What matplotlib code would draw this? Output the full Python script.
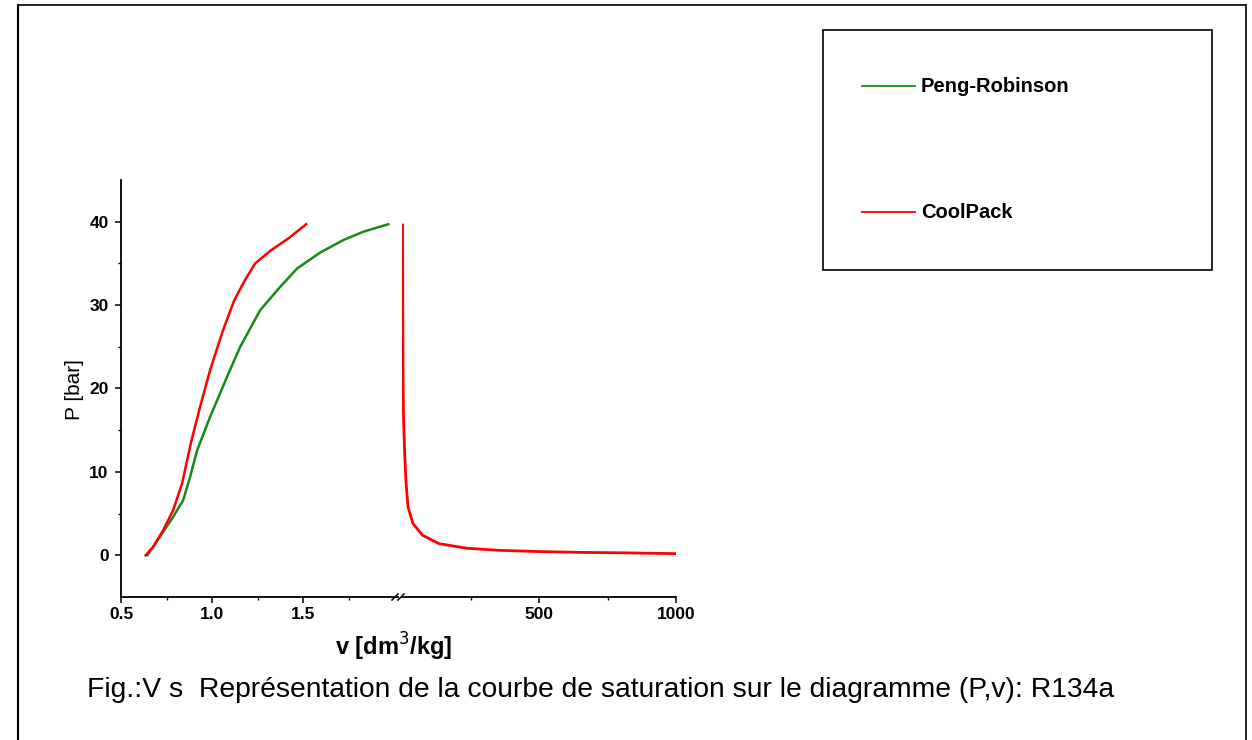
import matplotlib
matplotlib.use("Agg")
import matplotlib.pyplot as plt
from matplotlib.lines import Line2D
from matplotlib.patches import Rectangle

plt.rcParams['font.family'] = ['Liberation Sans', 'DejaVu Sans']

# ---- data ----
# Peng-Robinson, liquid branch
pr_v_liq = [0.645, 0.676, 0.731, 0.786, 0.841, 0.879, 0.918, 0.989, 1.082, 1.154,
            1.264, 1.374, 1.467, 1.593, 1.720, 1.830, 1.967]
pr_p_liq = [0.0, 1.0, 2.8, 4.6, 6.6, 9.4, 12.6, 16.6, 21.4, 25.0,
            29.4, 32.2, 34.4, 36.3, 37.8, 38.8, 39.7]
# CoolPack, liquid branch
cp_v_liq = [0.635, 0.676, 0.731, 0.786, 0.835, 0.885, 0.934, 0.989, 1.060, 1.120,
            1.175, 1.236, 1.319, 1.425, 1.516]
cp_p_liq = [0.0, 1.0, 3.0, 5.4, 8.6, 13.6, 17.8, 22.2, 27.0, 30.5,
            32.8, 35.0, 36.5, 38.1, 39.7]
# CoolPack, vapour branch
cp_v_vap = [2, 3, 4, 6, 10, 15, 22, 40, 75, 135, 235, 350, 500, 650, 800, 1000]
cp_p_vap = [39.6, 30, 20, 16, 12, 8.6, 5.8, 3.8, 2.4, 1.4, 0.85, 0.6, 0.45, 0.35, 0.3, 0.2]

left_ticks = [0.5, 1.0, 1.5]
left_minor = [0.75, 1.25, 1.75]
right_ticks = [500, 1000]
right_minor = [250, 750]
y_ticks = [0, 10, 20, 30, 40]
y_minor = [5, 15, 25, 35]

labels = ['Peng-Robinson', 'CoolPack']
colors = ['#168a16', '#ff0000']

W, H = 1252, 740
fig = plt.figure(figsize=(W / 100, H / 100), dpi=100)

def fx(px):
    return px / W

def fy(py):
    return 1 - py / H

ax1 = fig.add_axes([fx(121), fy(597), fx(398) - fx(121), fy(180) - fy(597)])
ax2 = fig.add_axes([fx(402), fy(597), fx(676) - fx(402), fy(180) - fy(597)])

l1, = ax1.plot(pr_v_liq, pr_p_liq, color=colors[0], lw=1.8)
l2, = ax1.plot(cp_v_liq, cp_p_liq, color=colors[1], lw=1.8)
ax2.plot(cp_v_vap, cp_p_vap, color=colors[1], lw=2.0)

ax1.set_xlim(0.5, 2.02)
ax2.set_xlim(0, 1000)
for ax in (ax1, ax2):
    ax.set_ylim(-5, 45)
    ax.spines['top'].set_visible(False)
    ax.spines['right'].set_visible(False)
    ax.set_facecolor('none')
    for s in ax.spines.values():
        s.set_linewidth(1.3)

ax2.spines['left'].set_visible(False)
ax2.tick_params(axis='y', left=False, labelleft=False)

ax1.set_xticks(left_ticks)
ax1.set_xticklabels(['%.1f' % t for t in left_ticks])
ax1.set_xticks(left_minor, minor=True)
ax2.set_xticks(right_ticks)
ax2.set_xticklabels([str(t) for t in right_ticks])
ax2.set_xticks(right_minor, minor=True)
ax1.set_yticks(y_ticks)
ax1.set_yticklabels([str(t) for t in y_ticks])
ax1.set_yticks(y_minor, minor=True)

for ax in (ax1, ax2):
    ax.tick_params(which='major', direction='out', length=4, width=1.1,
                   labelsize=12.5)
    ax.tick_params(which='minor', direction='out', length=2.5, width=1.0)
    ax.tick_params(axis='x', pad=3)
    ax.tick_params(axis='y', pad=5)
    for lab in ax.get_xticklabels() + ax.get_yticklabels():
        lab.set_fontweight('bold')

# break marks
for px in (395, 401):
    fig.add_artist(Line2D([fx(px - 3), fx(px + 3)], [fy(600), fy(594)],
                          color='black', lw=1.1))

fig.text(fx(75), fy(390), 'P [bar]', fontsize=15, rotation=90,
         ha='center', va='center')
fig.text(fx(394), fy(647), 'v [dm$^3$/kg]', fontsize=17, fontweight='bold',
         ha='center', va='center')

# caption
fig.text(fx(87), fy(690),
         'Fig.:V s  Représentation de la courbe de saturation sur le diagramme (P,v): R134a',
         fontsize=20.3, ha='left', va='center')

# page frame
fig.add_artist(Line2D([fx(18), fx(18)], [fy(5), fy(740)], color='black', lw=1.5))
fig.add_artist(Line2D([fx(18), fx(1246)], [fy(5), fy(5)], color='black', lw=1.2))
fig.add_artist(Line2D([fx(1246), fx(1246)], [fy(5), fy(740)], color='black', lw=1.2))

# legend box
fig.add_artist(Rectangle((fx(823), fy(270)), fx(1212) - fx(823), fy(30) - fy(270),
                         transform=fig.transFigure, fill=False, edgecolor='black', lw=1.2))
for line, lab, py in zip((l1, l2), labels, (86, 212)):
    fig.add_artist(Line2D([fx(862), fx(915)], [fy(py), fy(py)],
                          color=line.get_color(), lw=1.3))
    fig.text(fx(921), fy(py), lab, fontsize=14.5, fontweight='bold',
             ha='left', va='center')

fig.savefig('out.png', dpi=100)
